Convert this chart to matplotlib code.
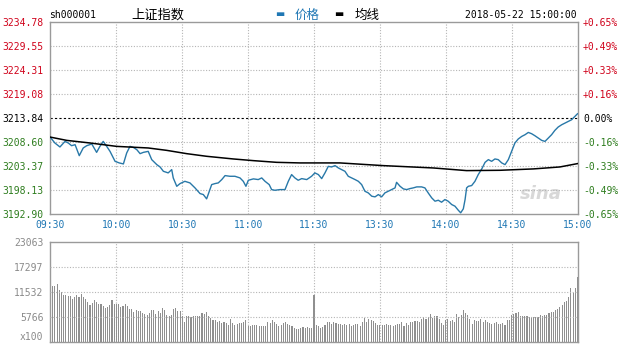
import matplotlib
matplotlib.use("Agg")
import matplotlib.pyplot as plt
import numpy as np

# ---------------- data ----------------
prev_close = 3213.84
price_ticks = [3192.90, 3198.13, 3203.37, 3208.60, 3213.84, 3219.08, 3224.31, 3229.55, 3234.78]
pct_labels = ["-0.65%", "-0.49%", "-0.33%", "-0.16%", "0.00%", "+0.16%", "+0.33%", "+0.49%", "+0.65%"]
time_labels = ["09:30", "10:00", "10:30", "11:00", "11:30", "13:30", "14:00", "14:30", "15:00"]
vol_ticks = [5766, 11532, 17297, 23063]

price_min = [0, 2.0, 4.3, 6.6, 8.1, 9.6, 11.2, 13.1, 14.9, 16.5,
             18.8, 21.0, 22.5, 24.0, 25.6, 27.1, 29.4, 31.3, 33.2, 34.7,
             36.2, 37.7, 39.3, 40.8, 42.3, 44.5, 46.1, 48.4, 49.9, 51.4,
             53.6, 55.2, 55.9, 57.5, 59.0, 61.2, 63.5, 65.8, 68.1, 69.6,
             71.1, 72.6, 73.4, 74.9, 76.4, 78.0, 79.5, 81.7, 84.0, 86.3,
             87.8, 89.0, 90.1, 92.4, 94.6, 96.2, 97.7, 99.6, 100.7, 102.2,
             104.5, 106.8, 108.3, 109.8, 111.3, 112.8, 114.4, 116.7, 118.9, 120.4,
             122.0, 123.5, 125.0, 126.5, 128.0, 129.6, 131.1, 132.6, 134.1, 135.6,
             137.2, 138.7, 140.2, 141.7, 143.2, 144.7, 146.3, 147.8, 149.3, 150.8,
             152.3, 153.8, 155.4, 156.9, 157.6, 159.2, 160.7, 162.2, 163.7, 165.2,
             166.8, 169.0, 170.5, 172.0, 173.6, 175.1, 176.6, 178.1, 179.6, 181.1,
             182.7, 184.2, 185.7, 186.8, 188.0, 188.8, 189.5, 190.3, 191.8, 193.3,
             194.8, 196.4, 197.9, 199.4, 200.9, 202.4, 203.9, 205.5, 207.0, 208.5,
             210.0, 211.5, 213.0, 214.6, 216.1, 217.6, 219.1, 220.6, 222.1, 223.7,
             225.2, 226.7, 228.2, 229.7, 231.2, 232.8, 234.3, 235.8, 237.3, 238.8,
             240]
price_val = [3209.50, 3208.32, 3207.45, 3208.67, 3208.32, 3207.73, 3207.95, 3205.55, 3207.23, 3207.73,
             3208.10, 3206.27, 3207.58, 3208.67, 3207.58, 3206.49, 3204.31, 3203.96, 3203.74, 3206.14,
             3207.58, 3207.36, 3206.86, 3205.99, 3206.27, 3206.49, 3204.68, 3203.59, 3203.08, 3202.13,
             3201.78, 3202.50, 3200.68, 3198.85, 3199.44, 3199.94, 3199.59, 3198.50, 3197.26, 3197.04,
             3196.10, 3198.13, 3199.22, 3199.44, 3199.59, 3200.32, 3201.19, 3201.04, 3201.04, 3200.68,
             3199.94, 3198.85, 3200.17, 3200.47, 3200.32, 3200.68, 3199.94, 3199.22, 3198.13, 3197.98,
             3198.13, 3198.13, 3199.94, 3201.41, 3200.68, 3200.17, 3200.53, 3200.32, 3201.04, 3201.78,
             3201.41, 3200.53, 3201.78, 3203.21, 3203.08, 3203.37, 3202.86, 3202.50, 3202.13, 3201.04,
             3200.68, 3200.32, 3199.94, 3199.22, 3197.76, 3197.41, 3196.68, 3196.54, 3197.04, 3196.54,
             3197.41, 3197.76, 3198.13, 3198.50, 3199.72, 3198.85, 3198.28, 3198.13, 3198.35, 3198.50,
             3198.72, 3198.72, 3198.50, 3197.41, 3196.32, 3195.59, 3195.80, 3195.37, 3195.95, 3195.59,
             3194.86, 3194.50, 3193.62, 3193.05, 3193.92, 3195.95, 3198.50, 3198.85, 3199.01, 3199.94,
             3201.41, 3202.65, 3204.09, 3204.68, 3204.31, 3204.83, 3204.68, 3203.96, 3203.59, 3204.68,
             3206.49, 3208.32, 3209.19, 3209.76, 3210.13, 3210.63, 3210.35, 3209.91, 3209.41, 3208.89,
             3208.67, 3209.41, 3210.13, 3211.08, 3211.81, 3212.31, 3212.68, 3213.03, 3213.40, 3214.12,
             3214.71]

avg_min = [0, 7.4, 18, 30.1, 44.5, 52.9, 62, 71.1, 83.2, 92.4, 103, 113.6, 121, 131.8,
           151.6, 174.3, 189.5, 204.7, 219.9, 232, 240]
avg_val = [3209.60, 3208.89, 3208.32, 3207.58, 3207.23, 3206.71, 3205.99, 3205.41, 3204.83,
           3204.46, 3204.09, 3203.96, 3203.96, 3203.96, 3203.37, 3202.86, 3202.28, 3202.35,
           3202.65, 3203.08, 3203.81]

# volume per minute (x100), 241 bars
volume = [12993, 12993, 12993, 13300, 11993, 11609, 10840, 10840, 10686, 10686,
          10071, 10456, 10840, 10456, 11148, 10456, 9918, 9302, 8534, 9149,
          9687, 9302, 8918, 8918, 8380, 7919, 8149, 8687, 9687, 8841,
          8841, 8918, 8149, 8380, 8764, 8380, 7765, 7611, 6996, 7380,
          7227, 7227, 6842, 6458, 6381, 6765, 7534, 7534, 6612, 7150,
          6765, 7919, 7534, 6381, 5997, 6381, 7765, 7919, 7227, 7227,
          6074, 4690, 6074, 6074, 5843, 5997, 5997, 6074, 6074, 6765,
          6535, 6996, 6074, 5612, 5074, 5228, 4690, 4843, 4459, 4690,
          4536, 3921, 5458, 4459, 4075, 4305, 4459, 4459, 4690, 5074,
          3690, 3690, 3921, 4075, 3921, 3690, 3690, 3690, 3690, 4690,
          4536, 5074, 4690, 4305, 3767, 4075, 4459, 4690, 4305, 3921,
          3690, 3306, 3152, 3152, 3383, 3536, 3306, 3536, 3383, 3383,
          10840,
          4075, 3690, 3306, 3536, 4075, 4690, 4690, 4305, 4690, 4459,
          4305, 4305, 3921, 4305, 4075, 4305, 3767, 4075, 4305, 4152,
          3767, 4690, 5612, 4690, 5305, 5074, 4843, 4536, 4075, 3921,
          3921, 3921, 4152, 3921, 4075, 3767, 3921, 4152, 4305, 4690,
          3767, 4536, 4075, 4690, 4690, 4920, 4920, 4690, 5305, 5843,
          5458, 5843, 6458, 5612, 6074, 5997, 5305, 4536, 4075, 5074,
          5305, 4843, 5074, 4690, 6458, 5843, 6227, 7380, 6842, 6227,
          5458, 4305, 5074, 4843, 4843, 5305, 4690, 5074, 4690, 4536,
          4305, 4459, 4690, 4152, 4305, 4536, 4075, 5074, 5074, 6227,
          6612, 6842, 6996, 5997, 5997, 6074, 6074, 5843, 5843, 5843,
          5843, 5843, 6227, 5997, 6381, 6381, 6842, 6996, 6996, 7534,
          7611, 8149, 8687, 9302, 9456, 10456, 12378, 11224, 12378, 15068]

# ---------------- style ----------------
RED = "#d0021b"
GREEN = "#2e7d1e"
BLUE = "#1f77b4"
LINE_BLUE = "#2878a8"
GRID = "#b5b5b5"
SPINE = "#9a9a9a"
MONO = "DejaVu Sans Mono"
CJK = ["Noto Sans CJK SC", "DejaVu Sans"]

W, H = 622, 344
fig = plt.figure(figsize=(W / 100, H / 100), dpi=100)

def pos(x0, y0, x1, y1):
    return [x0 / W, 1 - y1 / H, (x1 - x0) / W, (y1 - y0) / H]

ax = fig.add_axes(pos(50.5, 22, 577.5, 213.5))
axv = fig.add_axes(pos(50.5, 242, 577.5, 342.3))

xt = np.arange(0, 241, 30)

# ---- price panel ----
ax.plot(price_min, price_val, color=LINE_BLUE, lw=1.0, zorder=3)
ax.plot(avg_min, avg_val, color="black", lw=1.1, zorder=3)
ax.set_xlim(0, 240)
ax.set_ylim(price_ticks[0], price_ticks[-1])
for t in xt[1:-1]:
    ax.axvline(t, color=GRID, lw=0.8, ls=(0, (1, 1.5)), zorder=1)
for p in price_ticks[1:-1]:
    if abs(p - prev_close) < 1e-6:
        ax.axhline(p, color="black", lw=0.8, ls=(0, (2, 2)), zorder=2)
    else:
        ax.axhline(p, color=GRID, lw=0.8, ls=(0, (1, 1.5)), zorder=1)
ax.set_yticks(price_ticks)
ax.set_yticklabels([f"{p:.2f}" for p in price_ticks], fontfamily=MONO, fontsize=7)
for lab, p in zip(ax.get_yticklabels(), price_ticks):
    lab.set_color(RED if p > prev_close + 1e-6 else (GREEN if p < prev_close - 1e-6 else "black"))
ax.set_xticks(xt)
ax.set_xticklabels(time_labels, fontfamily=MONO, fontsize=7, color=BLUE)
ax.tick_params(axis="both", length=0)
ax.tick_params(axis="y", pad=5)
ax.tick_params(axis="x", pad=5)
for s in ax.spines.values():
    s.set_color(SPINE)
    s.set_linewidth(1)

ax2 = ax.twinx()
ax2.set_ylim(price_ticks[0], price_ticks[-1])
ax2.set_yticks(price_ticks)
ax2.set_yticklabels(pct_labels, fontfamily=MONO, fontsize=7)
for lab, p in zip(ax2.get_yticklabels(), price_ticks):
    lab.set_color(RED if p > prev_close + 1e-6 else (GREEN if p < prev_close - 1e-6 else "black"))
ax2.tick_params(axis="y", length=0, pad=4)
for s in ax2.spines.values():
    s.set_visible(False)

# sina watermark
ax.text(0.97, 0.10, "sina", transform=ax.transAxes, ha="right", va="center",
        fontsize=13, fontweight="bold", fontstyle="italic", color="#d8d8d8", zorder=0)

# header
fig.text(49 / W, 1 - 15 / H, "sh000001", fontfamily=MONO, fontsize=7, va="center", ha="left")
fig.text(131 / W, 1 - 15 / H, "上证指数", family=CJK, fontsize=9.5, va="center", ha="left")
fig.text(275 / W, 1 - 14 / H, "▬", family=["DejaVu Sans"], fontsize=7, color=BLUE, va="center", ha="left")
fig.text(295 / W, 1 - 15 / H, "价格", family=CJK, fontsize=9, color=BLUE, va="center", ha="left")
fig.text(334 / W, 1 - 14 / H, "▬", family=["DejaVu Sans"], fontsize=7, color="black", va="center", ha="left")
fig.text(355 / W, 1 - 15 / H, "均线", family=CJK, fontsize=9, color="black", va="center", ha="left")
fig.text(577 / W, 1 - 15 / H, "2018-05-22 15:00:00", fontfamily=MONO, fontsize=7, va="center", ha="right")

# ---- volume panel ----
axv.bar(np.arange(len(volume)), volume, width=0.5, color="#8f8f8f", linewidth=0, zorder=2)
axv.set_xlim(0, 240)
axv.set_ylim(0, vol_ticks[-1])
for t in xt[1:-1]:
    axv.axvline(t, color=GRID, lw=0.8, ls=(0, (1, 1.5)), zorder=1)
for v in vol_ticks[:-1]:
    axv.axhline(v, color=GRID, lw=0.8, ls=(0, (1, 1.5)), zorder=3)
axv.set_yticks([0] + vol_ticks)
axv.set_yticklabels(["x100"] + [str(v) for v in vol_ticks], fontfamily=MONO, fontsize=7, color="#8a8a8a")
axv.get_yticklabels()[0].set_verticalalignment("bottom")
axv.set_xticks([])
axv.tick_params(axis="y", length=0, pad=5)
for s in axv.spines.values():
    s.set_color(SPINE)
    s.set_linewidth(1)

fig.savefig("out.png", dpi=100)
